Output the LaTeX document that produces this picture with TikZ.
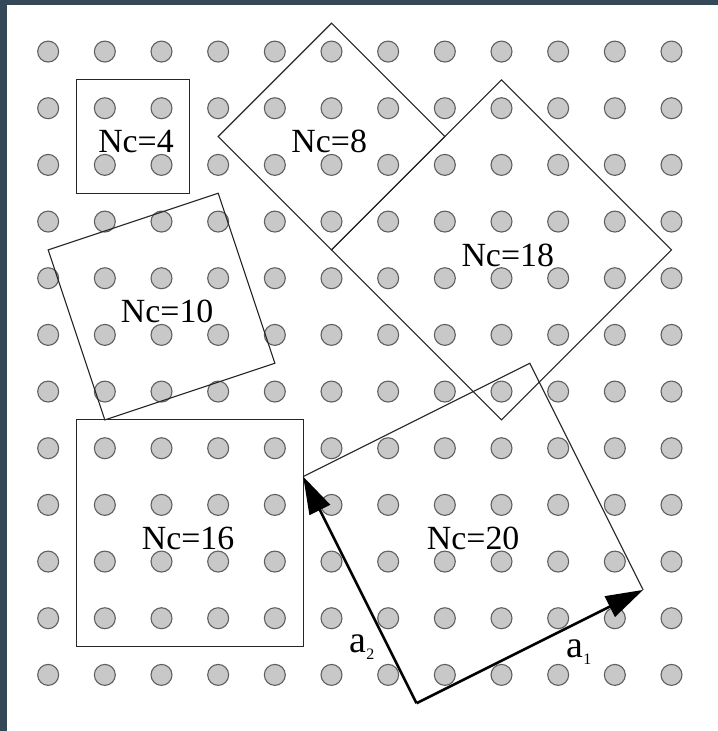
\documentclass[tikz,border=0pt]{standalone}
\usepackage{xcolor}
\usepackage{fontspec}
\setmainfont{Liberation Serif}
\usetikzlibrary{arrows.meta}
\definecolor{frame-slate}{RGB}{52,72,88}
\definecolor{site-fill}{RGB}{200,200,200}
\definecolor{site-edge}{RGB}{95,95,95}

\begin{document}
\begin{tikzpicture}[
    site/.style={circle, draw=site-edge, fill=site-fill, line width=0.55pt,
                 minimum size=0.37cm, inner sep=0pt},
    cell/.style={draw=black!85, line width=0.55pt, line join=miter},
    lbl/.style={anchor=base, inner sep=0pt, font=\fontsize{17}{20}\selectfont},
    vec/.style={-{Triangle[length=0.66cm, width=0.40cm]}, line width=1.3pt},
    vlbl/.style={anchor=base west, inner sep=0pt, font=\fontsize{19}{22}\selectfont},
]

\useasboundingbox (-0.85,-0.99) rectangle (11.82,11.91);
\fill[white] (-0.85,-0.99) rectangle (11.82,11.91);
\fill[frame-slate] (-0.85,11.82) rectangle (11.82,11.91);
\fill[frame-slate] (-0.85,-0.99) rectangle (-0.726,11.91);

% lattice sites
\foreach \x in {0,...,11}
  \foreach \y in {0,...,11}
    \node[site] (s-\x-\y) at (\x,\y) {};

% supercells
\draw[cell] (0.5,8.5) rectangle (2.5,10.5);
\node[lbl] (nc4) at (1.55,9.21) {Nc=4};

\draw[cell] (3,9.5) -- (5,11.5) -- (7,9.5) -- (5,7.5) -- cycle;
\node[lbl] (nc8) at (4.96,9.21) {Nc=8};

\draw[cell] (5,7.5) -- (8,10.5) -- (11,7.5) -- (8,4.5) -- cycle;
\node[lbl] (nc18) at (8.11,7.205) {Nc=18};

\draw[cell] (0,7.5) -- (3,8.5) -- (4,5.5) -- (1,4.5) -- cycle;
\node[lbl] (nc10) at (2.10,6.217) {Nc=10};

\draw[cell] (0.5,0.5) rectangle (4.5,4.5);
\node[lbl] (nc16) at (2.47,2.205) {Nc=16};

% Nc=20 with its lattice vectors
\coordinate (o) at (6.5,-0.5);
\coordinate (a1) at (10.5,1.5);
\coordinate (a2) at (4.5,3.5);
\draw[cell] (a1) -- (8.5,5.5) -- (a2);
\node[lbl] (nc20) at (7.50,2.205) {Nc=20};

\draw[vec] (o) -- (a1);
\draw[vec] (o) -- (a2);
\node[vlbl] (la1) at (9.14,0.30) {a\raisebox{-0.12cm}{\fontsize{8}{8}\selectfont 1}};
\node[vlbl] (la2) at (5.31,0.39) {a\raisebox{-0.12cm}{\fontsize{8}{8}\selectfont 2}};

\end{tikzpicture}
\end{document}
